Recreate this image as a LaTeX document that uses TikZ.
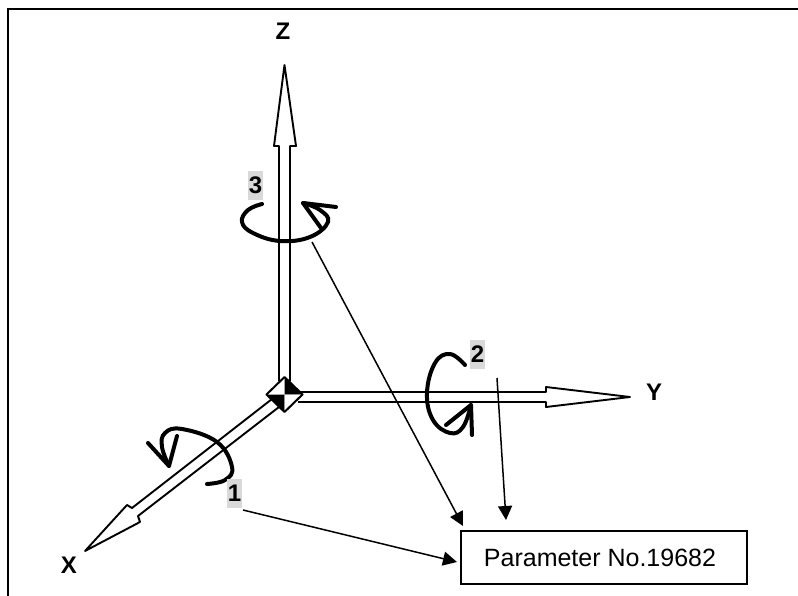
\documentclass[tikz,border=0pt]{standalone}
\usepackage{fontspec}
\setmainfont{Liberation Sans}
\usetikzlibrary{arrows.meta}

\tikzset{
    axisline/.style={line width=1.9pt, fill=white, line join=round},
    turnline/.style={line width=4pt, line cap=round, line join=round},
    leader/.style={line width=1.5pt, -{Stealth[length=14pt, width=14pt, inset=0pt]}},
    axisname/.style={font=\fontsize{24}{28}\selectfont\bfseries},
    turnlabel/.style={fill=black!15, inner sep=0pt, minimum width=15pt, minimum height=29pt, font=\fontsize{24}{28}\selectfont\bfseries},
}

\begin{document}
\begin{tikzpicture}[x=1pt, y=-1pt]
    \useasboundingbox (0,0) rectangle (798,596);

    % Frame, top and left only
    \draw[line width=2.2pt] (8,596) -- (8,9) -- (798,9);

    % Z axis
    \draw[axisline] (279,381) -- (279,146) -- (274,146) -- (284.5,65) -- (296,146) -- (290,146) -- (290,381);

    % Y axis
    \draw[axisline] (298,392) -- (546,392) -- (546,387) -- (630,397) -- (546,407) -- (546,402) -- (298,402);

    % X axis
    \draw[axisline] (272,399) -- (132,508) -- (127,505) -- (85,551) -- (140,522) -- (138,516) -- (279,407);

    % Diamond at the origin
    \fill[white] (266.5,394.5) -- (284.5,377) -- (284.5,394.5) -- cycle;
    \fill (284.5,377) -- (302.5,394.5) -- (284.5,394.5) -- cycle;
    \fill (266.5,394.5) -- (284.5,394.5) -- (284.5,412) -- cycle;
    \fill[white] (284.5,394.5) -- (302.5,394.5) -- (284.5,412) -- cycle;
    \draw[line width=2pt, line join=round] (266.5,394.5) -- (284.5,377) -- (302.5,394.5) -- (284.5,412) -- cycle;

    % Turn about Z
    \draw[turnline] plot[smooth, tension=0.7] coordinates {(262,204) (248,210) (242,222) (253,233) (280,241) (310,237) (328,222) (320,210) (303,203)};
    \draw[turnline] (336,207) -- (303,203) -- (321,228);

    % Turn about Y
    \draw[turnline] plot[smooth, tension=0.7] coordinates {(465,365) (450,354) (435,363) (427,393) (433,420) (450,433) (463,427) (471,405)};
    \draw[turnline] (446,425) -- (471,405) -- (472,435);

    % Turn about X
    \draw[turnline] plot[smooth, tension=0.7] coordinates {(207,484) (225,480) (232,467) (217,442) (182,429) (165,433) (162,447) (169,466)};
    \draw[turnline] (148,443) -- (169,466) -- (177,436);

    % Labels
    \node[axisname] (zname) at (283,31) {Z};
    \node[axisname] (yname) at (654,392) {Y};
    \node[axisname] (xname) at (69,565) {X};
    \node[turnlabel] (one) at (234.5,493.5) {1};
    \node[turnlabel] (two) at (477.5,354.5) {2};
    \node[turnlabel] (three) at (255.5,185.5) {3};

    % Parameter box
    \node[draw, line width=2pt, minimum width=286pt, minimum height=53pt, inner sep=0pt, font=\fontsize{25}{30}\selectfont] (param) at (604,557.5) {\hspace{-8pt}Parameter No.19682};

    % Leaders to the box
    \coordinate (fromone) at (243,510);
    \coordinate (fromtwo) at (497,378);
    \coordinate (fromthree) at (312,242);
    \coordinate (toone) at (457,562);
    \coordinate (totwo) at (506,520);
    \coordinate (tothree) at (463,526);
    \draw[leader] (fromone) -- (toone);
    \draw[leader] (fromtwo) -- (totwo);
    \draw[leader] (fromthree) -- (tothree);
\end{tikzpicture}
\end{document}
